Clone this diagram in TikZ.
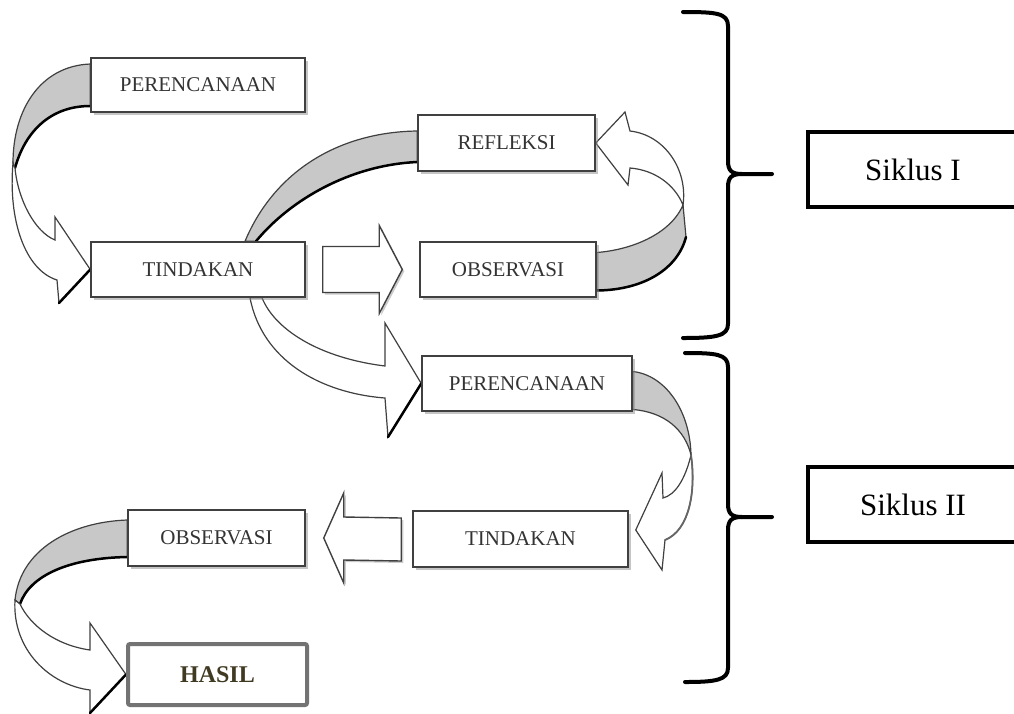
\documentclass[tikz,border=0pt]{standalone}
\usepackage{fontspec}
\setmainfont{Liberation Serif}
\usepackage{xcolor}
\usepackage{tikz}
\usetikzlibrary{shadows,calc}
\pgfdeclarelayer{background}
\pgfsetlayers{background,main}
\definecolor{hasiltext}{RGB}{64,58,34}
\definecolor{ribbongray}{RGB}{200,200,200}

\begin{document}
\begin{tikzpicture}[x=1pt, y=-1pt,
    box/.style={rectangle, draw=black!75, line width=1.5pt, fill=white, inner sep=0pt, text=black!80, font=\fontsize{21}{24}\selectfont, drop shadow={shadow xshift=2.5pt, shadow yshift=-2.5pt, fill=black!45}},
    hasilbox/.style={rectangle, draw=black!55, line width=4pt, rounded corners=2pt, fill=white, inner sep=0pt, text=hasiltext, font=\fontsize{24}{28}\selectfont\bfseries},
    siklusbox/.style={rectangle, draw=black, line width=3.5pt, fill=white, inner sep=0pt, font=\fontsize{31}{36}\selectfont},
    bandgray/.style={draw=black!75, line width=1.2pt, fill=ribbongray},
    bandwhite/.style={draw=black!75, line width=1.2pt, fill=white},
    edgeshade/.style={draw=black, line width=2.5pt, line cap=round},
    blockarrow/.style={draw=black!75, line width=1.4pt, fill=white, drop shadow={shadow xshift=2pt, shadow yshift=-2pt, fill=black!40}},
    brace/.style={draw=black, line width=4pt, line cap=round, line join=round}]
    \useasboundingbox (0,0) rectangle (1014,713);

    % siklus I
    \node[box, minimum width=214pt, minimum height=54pt] (per1) at (198,85) {PERENCANAAN};
    \node[box, minimum width=214pt, minimum height=55pt] (tin1) at (198,269.5) {TINDAKAN};
    \node[box, minimum width=177pt, minimum height=56pt] (ref1) at (506.5,143) {REFLEKSI};
    \node[box, minimum width=176pt, minimum height=55pt] (obs1) at (508,269.5) {OBSERVASI};

    % siklus II
    \node[box, minimum width=210pt, minimum height=55pt] (per2) at (527,383.5) {PERENCANAAN};
    \node[box, minimum width=215pt, minimum height=56pt] (tin2) at (520.5,539) {TINDAKAN};
    \node[box, minimum width=177pt, minimum height=56pt] (obs2) at (216.5,538) {OBSERVASI};
    \node[hasilbox, minimum width=179pt, minimum height=61pt] (hasil) at (217.5,674.5) {HASIL};

    \node[siklusbox, minimum width=210pt, minimum height=75pt] (sik1) at (913,169.5) {Siklus I};
    \node[siklusbox, minimum width=210pt, minimum height=75pt] (sik2) at (913,504.5) {Siklus II};

    % straight arrows
    \path[blockarrow] ($(tin1.east)+(17,-23)$) -- ($(obs1.west)+(-40,-23)$) -- ($(obs1.west)+(-40,-44)$) -- ($(obs1.west)+(-17,0)$)
        -- ($(obs1.west)+(-40,44)$) -- ($(obs1.west)+(-40,23)$) -- ($(tin1.east)+(17,23)$) -- cycle;
    \path[blockarrow] ($(tin2.west)+(-11,-21)$) -- ($(obs2.east)+(38,-21)$) -- ($(obs2.east)+(38,-45)$) -- ($(obs2.east)+(18,0)$)
        -- ($(obs2.east)+(38,45)$) -- ($(obs2.east)+(38,22)$) -- ($(tin2.west)+(-11,22)$) -- cycle;

    % curved ribbons, under the boxes
    \begin{pgfonlayer}{background}
        \fill[white] (0,0) rectangle (1014,713);
        % perencanaan -> tindakan
        \path[bandgray] ($(per1.west)+(0,-21)$) .. controls (40,66) and (13,110) .. (13,163)
            -- (15,168) .. controls (25,132) and (50,106) .. ($(per1.west)+(0,21)$) -- cycle;
        \draw[edgeshade] (15,168) .. controls (25,132) and (50,106) .. ($(per1.west)+(0,21)$);
        \path[bandwhite] (13,163) .. controls (8,220) and (25,270) .. (57,280) -- (59,303) -- (tin1.west)
            -- (55,217) -- (55,240) .. controls (35,232) and (18,200) .. (15,168) -- cycle;
        \draw[edgeshade] (59,303) -- (tin1.west);
        % tindakan -> refleksi
        \path[bandgray] ($(tin1.north)+(47,0)$) .. controls (275,170) and (340,132) .. ($(ref1.west)+(0,-12)$)
            -- ($(ref1.west)+(0,19)$) .. controls (350,165) and (290,200) .. ($(tin1.north)+(58,0)$) -- cycle;
        \draw[edgeshade] ($(ref1.west)+(0,19)$) .. controls (350,165) and (290,200) .. ($(tin1.north)+(58,0)$);
        % tindakan -> perencanaan II
        \path[bandwhite] ($(tin1.south)+(52,0)$) .. controls (262,360) and (320,393) .. (385,398) -- (388,437) -- (per2.west)
            -- (385,323) -- (385,366) .. controls (320,358) and (275,330) .. ($(tin1.south)+(64,0)$) -- cycle;
        \draw[edgeshade] (388,437) -- (per2.west);
        % observasi -> refleksi
        \path[bandgray] ($(obs1.east)+(0,-17)$) .. controls (630,250) and (670,235) .. (683,205)
            -- (686,237) .. controls (678,268) and (645,290) .. ($(obs1.east)+(0,21)$) -- cycle;
        \draw[edgeshade] (686,237) .. controls (678,268) and (645,290) .. ($(obs1.east)+(0,21)$);
        \path[bandwhite] (683,205) .. controls (688,170) and (665,135) .. (630,131) -- (625,112) -- (ref1.east)
            -- (628,185) -- (630,168) .. controls (655,170) and (675,185) .. (683,205) -- cycle;
        % perencanaan II -> tindakan II
        \path[bandgray] ($(per2.east)+(0,-12)$) .. controls (665,375) and (690,410) .. (691,455)
            .. controls (685,430) and (665,412) .. ($(per2.east)+(0,26)$) -- cycle;
        \path[bandwhite] (691,455) .. controls (696,490) and (690,530) .. (665,540) -- (662,570) -- ($(tin2.east)+(7,-9)$)
            -- (662,473) -- (663,498) .. controls (675,495) and (685,480) .. (691,455) -- cycle;
        \draw[edgeshade, draw=black!60, line width=1.8pt] (691,455) .. controls (696,490) and (690,530) .. (665,540);
        % observasi II -> hasil
        \path[bandgray] ($(obs2.west)+(0,-18)$) .. controls (70,522) and (20,550) .. (15,600)
            -- (20,604) .. controls (30,575) and (70,558) .. ($(obs2.west)+(0,19)$) -- cycle;
        \draw[edgeshade] (20,604) .. controls (30,575) and (70,558) .. ($(obs2.west)+(0,19)$);
        \path[bandwhite] (15,600) .. controls (12,650) and (50,685) .. (90,690) -- (90,713) -- (hasil.west)
            -- (90,623) -- (90,650) .. controls (55,645) and (30,625) .. (20,604) -- cycle;
        \draw[edgeshade] (90,713) -- (hasil.west);
    \end{pgfonlayer}

    % braces
    \draw[brace] (683,12) .. controls (716,12) and (728,13) .. (728,26) -- (728,161) .. controls (728,171) and (732,174) .. (742,174) -- (772,174);
    \draw[brace] (742,174) .. controls (732,174) and (728,177) .. (728,187) -- (728,324) .. controls (728,336) and (716,338) .. (683,338);
    \draw[brace] (685,353) .. controls (716,353) and (728,354) .. (728,367) -- (728,504) .. controls (728,514) and (732,517) .. (742,517) -- (772,517);
    \draw[brace] (742,517) .. controls (732,517) and (728,520) .. (728,530) -- (728,668) .. controls (728,680) and (716,682) .. (685,682);
\end{tikzpicture}
\end{document}
